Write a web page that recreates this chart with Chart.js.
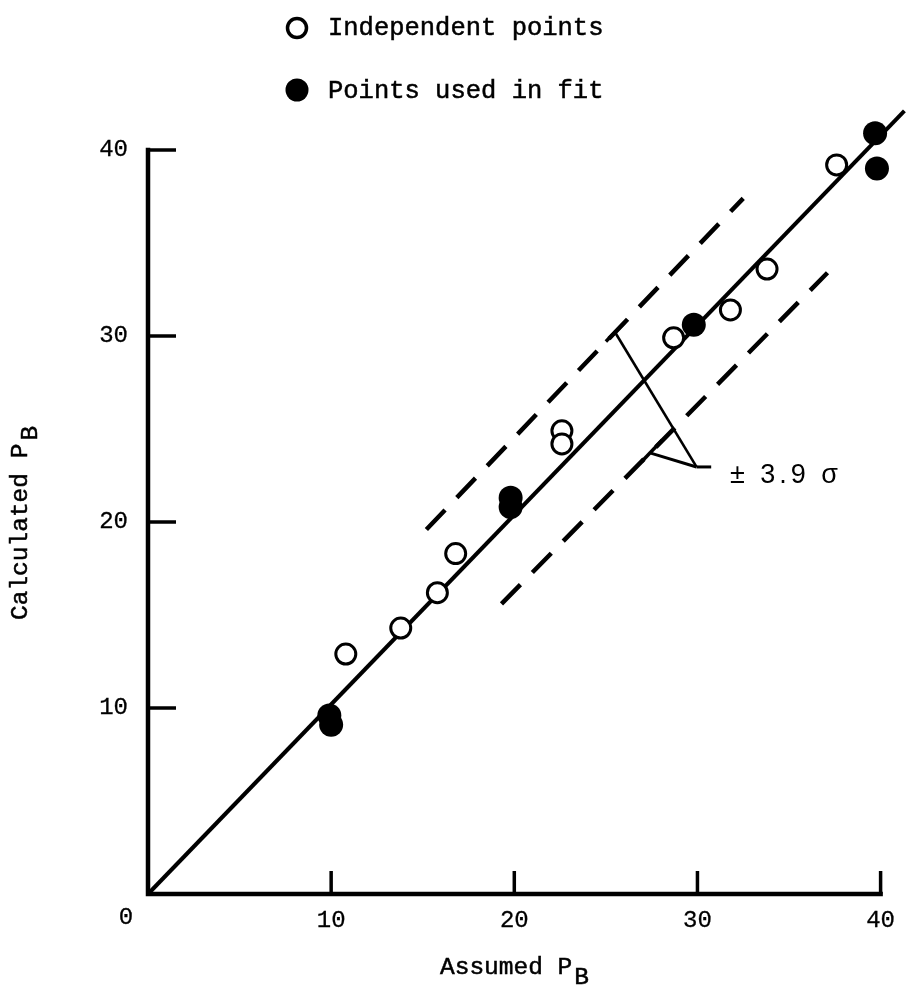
<!DOCTYPE html>
<html>
<head>
<meta charset="utf-8">
<title>Calculated vs assumed P_B</title>
<script src="https://cdn.jsdelivr.net/npm/chart.js@4.4.0/dist/chart.umd.min.js"></script>
<style>
  html, body { margin: 0; padding: 0; background: #fff; }
  #wrap { width: 907px; height: 986px; position: relative; }
</style>
</head>
<body>
<div id="wrap"><canvas id="chart"></canvas></div>
<script>
// tick labels
const xTicks = [10, 20, 30, 40];
const yTicks = [10, 20, 30, 40];

// open circles - independent points
const indepX = [10.8, 13.8, 15.8, 16.8, 22.6, 22.6, 28.7, 31.8, 33.8, 37.6];
const indepY = [12.9, 14.3, 16.2, 18.3, 24.9, 24.2, 29.9, 31.4, 33.6, 39.2];

// filled circles - points used in fit
const fitX = [9.9, 10.0, 19.8, 19.8, 29.8, 39.7, 39.8];
const fitY = [9.6, 9.1, 21.3, 20.8, 30.6, 40.9, 39.0];

// fitted line and the +/- 3.9 sigma band
const lineX = [0, 41.3];
const lineY = [0, 42.1];
const upperX = [15.2, 32.5];
const upperY = [19.6, 37.4];
const lowerX = [19.3, 37.1];
const lowerY = [15.6, 33.4];

// bracket pointing to the band label
const capUpX = [25.0, 26.0];
const capUpY = [29.7, 30.7];
const leaderX = [25.5, 29.95];
const leaderY = [30.2, 22.96];
const capLowX = [26.95, 28.08];
const capLowY = [23.24, 24.41];
const connX = [27.45, 29.95];
const connY = [23.7, 22.96];
const stubX = [29.95, 30.75];
const stubY = [22.96, 22.96];

const mono = '"Liberation Mono", "DejaVu Sans Mono", monospace';

function pts(xs, ys) {
    return xs.map((x, i) => ({ x: x, y: ys[i] }));
}

function seg(xs, ys, width, dash) {
    return {
        type: 'line',
        data: pts(xs, ys),
        borderColor: '#000',
        borderWidth: width,
        borderDash: dash || [],
        borderCapStyle: 'butt',
        pointRadius: 0,
        fill: false,
        clip: false,
        order: 5
    };
}

// typewriter text, a little heavier than the plain font
function typeText(ctx, s, x, y) {
    ctx.fillText(s, x, y);
    ctx.strokeText(s, x, y);
}

// axes with inward ticks, legend, titles
const paperPlugin = {
    id: 'paperPlugin',
    beforeDatasetsDraw(chart) {
        const ctx = chart.ctx;
        const X = v => chart.scales.x.getPixelForValue(v);
        const Y = v => chart.scales.y.getPixelForValue(v);
        ctx.save();
        ctx.strokeStyle = '#000';
        ctx.lineWidth = 4.5;
        ctx.lineCap = 'square';
        ctx.beginPath();
        ctx.moveTo(X(0), Y(40));
        ctx.lineTo(X(0), Y(0));
        ctx.lineTo(X(40), Y(0));
        ctx.stroke();
        ctx.lineCap = 'butt';
        ctx.lineWidth = 3.5;
        yTicks.forEach(v => {
            ctx.beginPath();
            ctx.moveTo(X(0), Y(v));
            ctx.lineTo(X(0) + 28, Y(v));
            ctx.stroke();
        });
        xTicks.forEach(v => {
            ctx.beginPath();
            ctx.moveTo(X(v), Y(0));
            ctx.lineTo(X(v), Y(0) - 23);
            ctx.stroke();
        });
        ctx.restore();
    },
    afterDraw(chart) {
        const ctx = chart.ctx;
        const X = v => chart.scales.x.getPixelForValue(v);
        const Y = v => chart.scales.y.getPixelForValue(v);
        ctx.save();
        ctx.fillStyle = '#000';
        ctx.strokeStyle = '#000';

        // lone "0" at the origin, set off to the left
        ctx.lineWidth = 0.3;
        ctx.font = '24px ' + mono;
        ctx.textAlign = 'center';
        ctx.textBaseline = 'top';
        typeText(ctx, '0', X(0) - 22, Y(0) + 12);

        // legend
        ctx.lineWidth = 0.5;
        ctx.textAlign = 'left';
        ctx.textBaseline = 'alphabetic';
        ctx.font = '25.5px ' + mono;
        typeText(ctx, 'Independent points', 328, 35);
        typeText(ctx, 'Points used in fit', 328, 98);

        // x title
        ctx.font = '24.5px ' + mono;
        typeText(ctx, 'Assumed P', 440, 974);
        let w = ctx.measureText('Assumed P').width;
        typeText(ctx, 'B', 440 + w + 2, 984);

        // y title, rotated
        ctx.save();
        ctx.translate(27, 620);
        ctx.rotate(-Math.PI / 2);
        typeText(ctx, 'Calculated P', 0, 0);
        w = ctx.measureText('Calculated P').width;
        typeText(ctx, 'B', w + 3, 10);
        ctx.restore();

        // legend markers
        ctx.lineWidth = 3.5;
        ctx.beginPath();
        ctx.arc(297, 28, 9.5, 0, Math.PI * 2);
        ctx.stroke();
        ctx.beginPath();
        ctx.arc(297, 90, 11.5, 0, Math.PI * 2);
        ctx.fill();

        // band label
        ctx.font = '27px "Liberation Sans", Arial, sans-serif';
        ctx.letterSpacing = '4px';
        ctx.fillText('\u00b1 3.9 \u03c3', 730, 483);
        ctx.restore();
    }
};

const ctx = document.getElementById('chart').getContext('2d');
const chart = new Chart(ctx, {
    type: 'scatter',
    data: {
        datasets: [
            {
                label: 'Points used in fit',
                data: pts(fitX, fitY),
                backgroundColor: '#000',
                borderColor: '#000',
                borderWidth: 0,
                pointRadius: 12,
                clip: false,
                order: 0
            },
            {
                label: 'Independent points',
                data: pts(indepX, indepY),
                backgroundColor: '#fff',
                borderColor: '#000',
                borderWidth: 3,
                pointRadius: 10,
                clip: false,
                order: 1
            },
            seg(lineX, lineY, 4),
            seg(upperX, upperY, 4.5, [27, 17]),
            seg(lowerX, lowerY, 4.5, [27, 17]),
            seg(capUpX, capUpY, 3.5),
            seg(leaderX, leaderY, 2.6),
            seg(capLowX, capLowY, 3.5),
            seg(connX, connY, 3),
            seg(stubX, stubY, 3)
        ]
    },
    options: {
        responsive: true,
        maintainAspectRatio: false,
        devicePixelRatio: 1,
        animation: false,
        // y runs to 42.5 so the top fit point is inside the area; axis drawn to 40
        layout: { padding: { left: 0, top: 103.5, right: 24, bottom: 0 } },
        plugins: {
            legend: { display: false },
            tooltip: { enabled: false }
        },
        scales: {
            x: {
                type: 'linear',
                min: 0,
                max: 40,
                grid: { display: false, drawTicks: false },
                border: { display: false },
                afterBuildTicks: s => { s.ticks = xTicks.map(v => ({ value: v })); },
                afterFit: s => { s.height = 92; },
                ticks: {
                    color: '#000',
                    padding: 12,
                    maxRotation: 0,
                    autoSkip: false,
                    textStrokeColor: '#000',
                    textStrokeWidth: 0.3,
                    font: { family: mono, size: 24 }
                }
            },
            y: {
                type: 'linear',
                min: 0,
                max: 42.5,
                grid: { display: false, drawTicks: false },
                border: { display: false },
                afterBuildTicks: s => { s.ticks = yTicks.map(v => ({ value: v })); },
                afterFit: s => { s.width = 148; },
                ticks: {
                    color: '#000',
                    padding: 20,
                    autoSkip: false,
                    textStrokeColor: '#000',
                    textStrokeWidth: 0.3,
                    font: { family: mono, size: 24 }
                }
            }
        }
    },
    plugins: [paperPlugin]
});
</script>
</body>
</html>
